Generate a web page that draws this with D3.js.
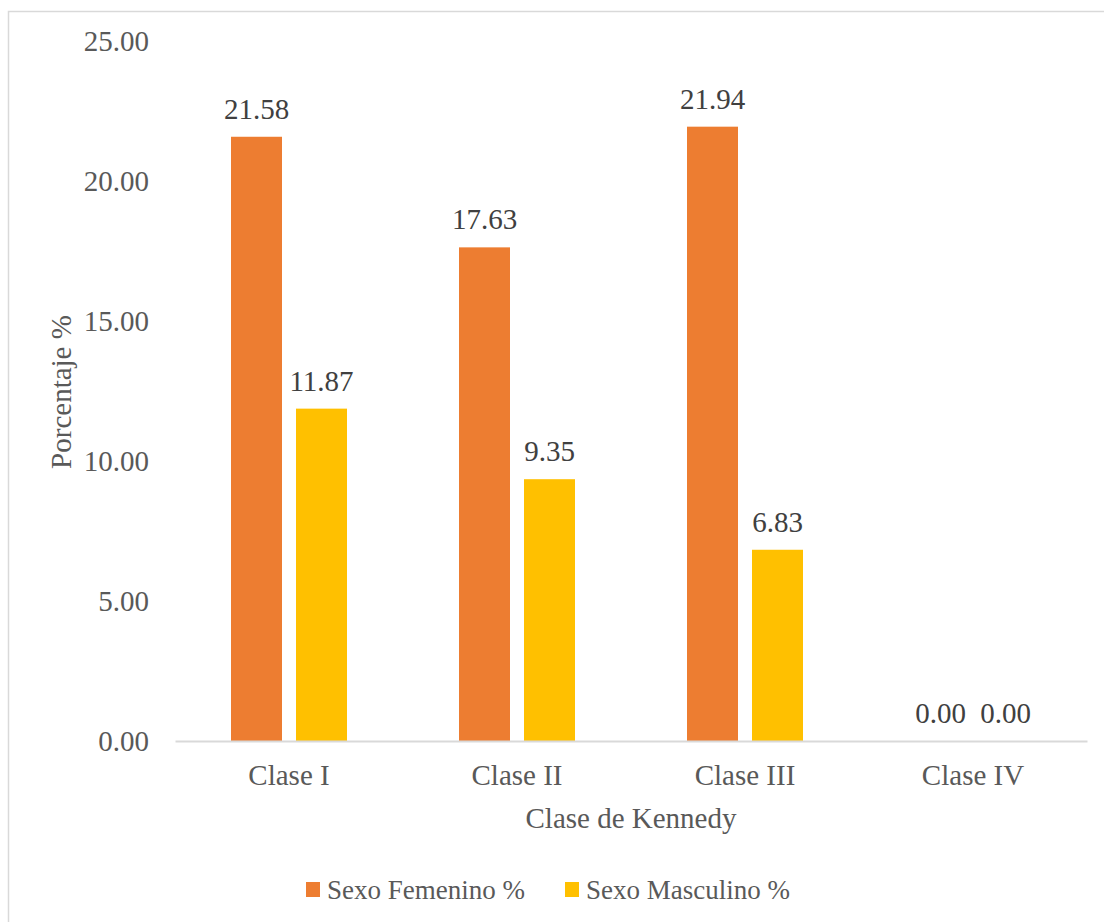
<!DOCTYPE html>
<html>
<head>
<meta charset="utf-8">
<script src="https://cdn.jsdelivr.net/npm/d3@7"></script>
<style>
  html, body { margin: 0; padding: 0; background: #fff; }
  svg { display: block; }
  text { font-family: "Liberation Serif", "Times New Roman", serif; }
</style>
</head>
<body>
<svg id="chart" width="1104" height="922"></svg>
<script>
// Kennedy class distribution by sex (%)
const categories = ["Clase I", "Clase II", "Clase III", "Clase IV"];
const seriesNames = ["Sexo Femenino %", "Sexo Masculino %"];
const femenino = [21.58, 17.63, 21.94, 0.00];
const masculino = [11.87, 9.35, 6.83, 0.00];
const yTicks = [0, 5, 10, 15, 20, 25];
const colors = ["#ED7D31", "#FFC000"];

const svg = d3.select("#chart");
const W = 1104, H = 922;

// outer chart frame
svg.append("rect")
  .attr("x", 8.5).attr("y", 11.5)
  .attr("width", W).attr("height", H)
  .attr("fill", "#fff").attr("stroke", "#d9d9d9").attr("stroke-width", 1.5);

const plot = { left: 175, right: 1087, top: 41, bottom: 741 };

const x = d3.scaleBand().domain(categories).range([plot.left, plot.right]);
const y = d3.scaleLinear().domain([0, 25]).range([plot.bottom, plot.top]);

const barW = 51, gap = 14;
const series = [femenino, masculino];

// y-axis tick labels
const yAxis = d3.axisLeft(y).tickValues(yTicks).tickFormat(d3.format(".2f")).tickSize(0).tickPadding(0);
const yg = svg.append("g").attr("transform", `translate(149,0)`).call(yAxis);
yg.select(".domain").remove();
yg.selectAll("text")
  .attr("fill", "#595959").attr("font-size", 29)
  .attr("font-family", "Liberation Serif, Times New Roman, serif");

// bars
series.forEach((vals, si) => {
  const offset = si === 0 ? -(gap / 2 + barW) : gap / 2;
  svg.append("g").selectAll("rect")
    .data(categories)
    .join("rect")
    .attr("x", c => x(c) + x.bandwidth() / 2 + offset)
    .attr("y", (c, i) => y(vals[i]))
    .attr("width", barW)
    .attr("height", (c, i) => y(0) - y(vals[i]))
    .attr("fill", colors[si]);

  // value labels
  svg.append("g").selectAll("text")
    .data(categories)
    .join("text")
    .attr("x", c => x(c) + x.bandwidth() / 2 + offset + barW / 2)
    .attr("y", (c, i) => y(vals[i]) - 18)
    .attr("text-anchor", "middle")
    .attr("font-size", 29)
    .attr("fill", "#404040")
    .text((c, i) => d3.format(".2f")(vals[i]));
});

// x axis baseline and category labels
const xAxis = d3.axisBottom(x).tickSize(0).tickPadding(0);
const xg = svg.append("g").attr("transform", `translate(0,${plot.bottom})`).call(xAxis);
xg.select(".domain").attr("stroke", "#d9d9d9").attr("stroke-width", 2);
xg.selectAll("text")
  .attr("y", 44).attr("dy", null)
  .attr("fill", "#595959").attr("font-size", 29)
  .attr("font-family", "Liberation Serif, Times New Roman, serif");

// axis titles
svg.append("text")
  .attr("x", (plot.left + plot.right) / 2).attr("y", 828)
  .attr("text-anchor", "middle").attr("font-size", 29).attr("fill", "#595959")
  .text("Clase de Kennedy");

svg.append("text")
  .attr("transform", "translate(71,392) rotate(-90)")
  .attr("text-anchor", "middle").attr("font-size", 29).attr("fill", "#595959")
  .text("Porcentaje %");

// legend
const legendX = [306, 565];
const lg = svg.append("g");
seriesNames.forEach((name, i) => {
  lg.append("rect").attr("x", legendX[i]).attr("y", 882).attr("width", 14).attr("height", 15).attr("fill", colors[i]);
  lg.append("text").attr("x", legendX[i] + 21).attr("y", 899)
    .attr("font-size", 27).attr("fill", "#595959").text(name);
});
</script>
</body>
</html>
